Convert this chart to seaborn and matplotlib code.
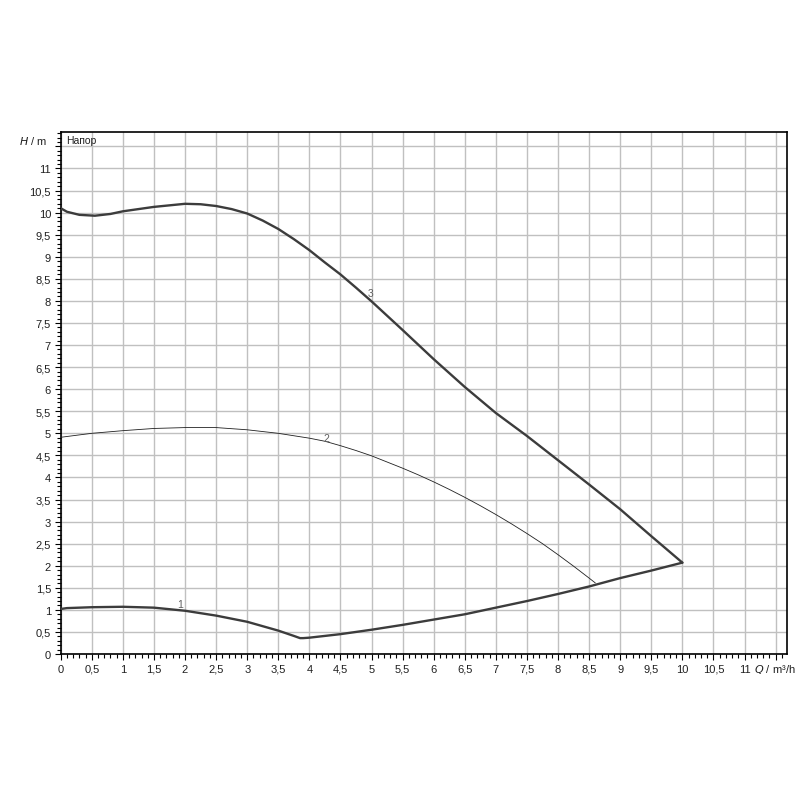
import matplotlib
matplotlib.use("Agg")
import numpy as np
import pandas as pd
import matplotlib.pyplot as plt
import seaborn as sns
from matplotlib.ticker import MultipleLocator, FuncFormatter
from matplotlib.transforms import blended_transform_factory

# pump curves (Q in m3/h, H in m)
q1 = [0, 0.1, 0.5, 1, 1.5, 2, 2.5, 2.75, 3, 3.25, 3.5, 3.75, 3.85, 3.9, 4, 4.5, 5, 5.5, 6, 6.5, 7, 7.5, 8, 8.5, 9, 9.5, 10]
h1 = [1.02, 1.04, 1.06, 1.07, 1.05, 0.98, 0.87, 0.80, 0.73, 0.63, 0.53, 0.41, 0.36, 0.36, 0.37, 0.45, 0.55, 0.66, 0.78, 0.90, 1.05, 1.20, 1.36, 1.53, 1.72, 1.89, 2.07]

q2 = [0, 0.5, 1, 1.5, 2, 2.5, 3, 3.5, 4, 4.25, 4.5, 4.75, 5, 5.25, 5.5, 5.75, 6, 6.25, 6.5, 6.75, 7,
      7.25, 7.5, 7.75, 8, 8.25, 8.5, 8.6]
h2 = [4.91, 5.0, 5.06, 5.11, 5.13, 5.13, 5.08, 5.0, 4.89, 4.82, 4.72, 4.61, 4.49, 4.35, 4.21, 4.06, 3.90, 3.73, 3.55, 3.36, 3.16,
      2.95, 2.73, 2.50, 2.25, 1.99, 1.72, 1.61]

q3 = [0, 0.1, 0.3, 0.55, 0.8, 1, 1.5, 2, 2.25, 2.5, 2.75, 3, 3.25, 3.5, 3.75, 4, 4.25, 4.5, 4.75, 5,
      5.5, 6, 6.5, 7, 7.5, 8, 8.5, 9, 9.5, 10]
h3 = [10.1, 10.02, 9.95, 9.93, 9.97, 10.03, 10.13, 10.2, 10.19, 10.15, 10.08, 9.98, 9.82, 9.63, 9.40, 9.15, 8.87, 8.60, 8.30, 7.99,
      7.34, 6.68, 6.05, 5.46, 4.94, 4.39, 3.84, 3.28, 2.67, 2.07]

curve_names = ["1", "2", "3"]
label_pos = [(1.92, 1.14), (4.27, 4.89), (4.98, 8.18)]

sns.set_style("white")
plt.rcParams['font.family'] = ['Liberation Sans', 'DejaVu Sans']

fig = plt.figure(figsize=(8.03, 8.03), dpi=100)
ax = fig.add_axes([0.0756, 0.1843, 0.905, 0.6497])

line_col = "#3c3c3c"
df1 = pd.DataFrame({"Q": q1, "H": h1})
df2 = pd.DataFrame({"Q": q2, "H": h2})
df3 = pd.DataFrame({"Q": q3, "H": h3})
sns.lineplot(data=df1, x="Q", y="H", ax=ax, color=line_col, lw=1.7, sort=False, zorder=3)
sns.lineplot(data=df2, x="Q", y="H", ax=ax, color="#202020", lw=0.6, sort=False, zorder=3)
sns.lineplot(data=df3, x="Q", y="H", ax=ax, color=line_col, lw=1.7, sort=False, zorder=3)

for name, (lx, ly) in zip(curve_names, label_pos):
    ax.text(lx, ly, name, fontsize=7.5, color="#606060", ha="center", va="center", zorder=4)

ax.set_xlim(0, 11.69)
ax.set_ylim(0, 11.82)

ax.xaxis.set_major_locator(MultipleLocator(0.5))
ax.yaxis.set_major_locator(MultipleLocator(0.5))
ax.xaxis.set_minor_locator(MultipleLocator(0.1))
ax.yaxis.set_minor_locator(MultipleLocator(0.1))


def fmt(v, pos):
    if v > 11.01:
        return ""
    s = ("%g" % round(v, 1)).replace(".", ",")
    return s


ax.xaxis.set_major_formatter(FuncFormatter(fmt))
ax.yaxis.set_major_formatter(FuncFormatter(fmt))
ax.tick_params(which="major", direction="out", length=4.5, width=0.8, color="black",
               labelsize=8, labelcolor="#202020", left=True, bottom=True, pad=2.5)
ax.tick_params(which="minor", direction="out", length=2.8, width=0.8, color="black", left=True, bottom=True)

ax.grid(True, which="major", color="#c0c0c0", lw=1.0, zorder=0)
for sp in ax.spines.values():
    sp.set_color("black")
    sp.set_linewidth(1.2)

ax.set_xlabel("")
ax.set_ylabel("")

# axis captions
ax.text(-0.018, 11.64, r"$\it{H}$ / m", transform=blended_transform_factory(ax.transAxes, ax.transData),
        fontsize=8, ha="right", va="center", color="#202020")
ax.text(0.09, 11.64, "Напор", fontsize=7.5, ha="left", va="center", color="#202020")
ax.text(11.16, -0.33, r"$\it{Q}$ / m³/h", fontsize=8, ha="left", va="center", color="#202020",
        transform=blended_transform_factory(ax.transData, ax.transData), clip_on=False)

fig.savefig("out.png", dpi=100, facecolor="white")
